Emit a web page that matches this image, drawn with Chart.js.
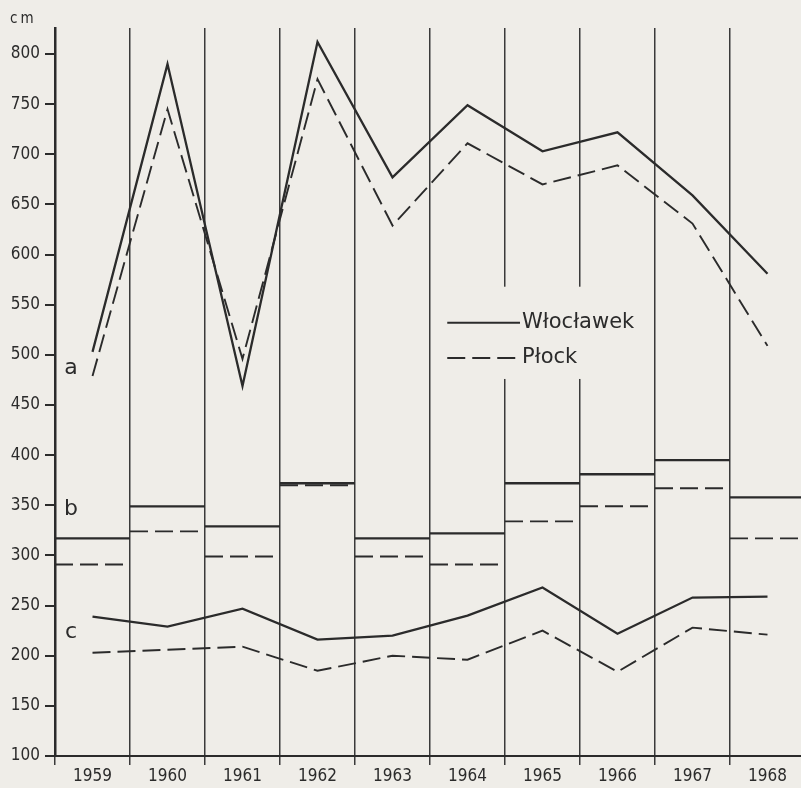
<!DOCTYPE html>
<html>
<head>
<meta charset="utf-8">
<script src="https://cdn.jsdelivr.net/npm/chart.js@4.4.1/dist/chart.umd.min.js"></script>
<style>
  html, body { margin: 0; padding: 0; background: #efede8; overflow: hidden; }
  #wrap { width: 808px; height: 788px; }
</style>
</head>
<body>
<div id="wrap"><canvas id="myChart" width="808" height="788"></canvas></div>
<script>
const years = ["1959", "1960", "1961", "1962", "1963", "1964", "1965", "1966", "1967", "1968"];

// a - górny wykres
const aWloclawek = [503, 790, 469, 812, 677, 749, 703, 722, 659, 581];
const aPlock = [479, 745, 496, 775, 629, 711, 670, 689, 631, 509];
// b - poziome odcinki dla kazdego roku
const bWloclawek = [317, 349, 329, 372, 317, 322, 372, 381, 395, 358];
const bPlock = [291, 324, 299, 370, 299, 291, 334, 349, 367, 317];
// c - dolny wykres
const cWloclawek = [239, 229, 247, 216, 220, 240, 268, 222, 258, 259];
const cPlock = [203, 206, 209, 185, 200, 196, 225, 184, 228, 221];

const yTicks = [100, 150, 200, 250, 300, 350, 400, 450, 500, 550, 600, 650, 700, 750, 800];
const seriesLetters = [
  { text: "a", value: 487 },
  { text: "b", value: 346 },
  { text: "c", value: 223 },
];

const paper = "#efede8";
const ink = "#2b2b2b";
const dash = [18, 7];
const tickFont = "'DejaVu Sans Condensed', 'DejaVu Sans', sans-serif";

// kazdy rok -> osobny odcinek od granicy do granicy
const odcinki = (vals) => {
  let pts = [];
  vals.map((v, i) => {
    pts.push({ x: i - 0.5, y: v });
    pts.push({ x: i + 0.5, y: v });
    pts.push({ x: i + 0.5, y: null });
  });
  return pts;
};

const tlo = {
  id: "tlo",
  beforeDraw(chart) {
    const c = chart.ctx;
    c.save();
    c.fillStyle = paper;
    c.fillRect(0, 0, chart.width, chart.height);
    c.restore();
  },
};

const opisy = {
  id: "opisy",
  beforeDatasetsDraw(chart) {
    // miejsce na legende - linie siatki przerwane
    const c = chart.ctx;
    const y = chart.scales.y;
    const x2 = chart.scales.x2;
    c.save();
    c.fillStyle = paper;
    const l = x2.getPixelForValue(4.62);
    const r = x2.getPixelForValue(7.3);
    const t = y.getPixelForValue(568);
    const b = y.getPixelForValue(476);
    c.fillRect(l, t, r - l, b - t);
    c.restore();
  },
  afterDatasetsDraw(chart) {
    const c = chart.ctx;
    const y = chart.scales.y;
    const x2 = chart.scales.x2;
    const area = chart.chartArea;
    c.save();
    c.fillStyle = ink;
    c.textBaseline = "middle";

    // legenda
    const legenda = [
      { ds: chart.data.datasets[0], v: 532 },
      { ds: chart.data.datasets[1], v: 497 },
    ];
    const x0 = x2.getPixelForValue(4.73);
    const x1 = x2.getPixelForValue(5.7);
    legenda.map((it) => {
      const yy = y.getPixelForValue(it.v);
      c.strokeStyle = it.ds.borderColor;
      c.lineWidth = 2;
      c.setLineDash(it.ds.borderDash || []);
      c.beginPath();
      c.moveTo(x0, yy);
      c.lineTo(x1, yy);
      c.stroke();
      c.setLineDash([]);
      c.font = "21px 'DejaVu Sans', sans-serif";
      c.textAlign = "left";
      c.fillText(it.ds.label, x1 + 2, yy);
    });

    // litery a, b, c
    c.font = "22px 'DejaVu Sans', sans-serif";
    c.textAlign = "center";
    seriesLetters.map((s) => {
      c.fillText(s.text, area.left + 16, y.getPixelForValue(s.value));
    });

    // jednostka
    c.font = "15px " + tickFont;
    c.textAlign = "left";
    c.letterSpacing = "3px";
    c.fillText("cm", 10, 19);
    c.restore();
  },
};

const ctx = document.getElementById("myChart");

new Chart(ctx, {
  type: "line",
  data: {
    labels: years,
    datasets: [
      { label: "Włocławek", data: aWloclawek, borderColor: ink, borderWidth: 2.3 },
      { label: "Płock", data: aPlock, borderColor: ink, borderWidth: 1.9, borderDash: dash },
      { label: "Włocławek b", data: odcinki(bWloclawek), xAxisID: "x2", borderColor: ink, borderWidth: 2.3 },
      { label: "Płock b", data: odcinki(bPlock), xAxisID: "x2", borderColor: ink, borderWidth: 1.9, borderDash: dash },
      { label: "Włocławek c", data: cWloclawek, borderColor: ink, borderWidth: 2.3 },
      { label: "Płock c", data: cPlock, borderColor: ink, borderWidth: 1.9, borderDash: dash },
    ],
  },
  options: {
    responsive: false,
    animation: false,
    spanGaps: false,
    elements: {
      point: { radius: 0, hoverRadius: 0 },
      line: { tension: 0, fill: false, borderCapStyle: "butt" },
    },
    layout: { padding: { top: 28, right: 3, left: 0, bottom: 0 } },
    plugins: {
      legend: { display: false },
      tooltip: { enabled: false },
      title: { display: false },
    },
    scales: {
      x: {
        type: "category",
        offset: true,
        grid: { offset: true, color: "#3a3a3a", lineWidth: 1.5, tickLength: 9, drawTicks: true },
        border: { display: true, color: ink, width: 2 },
        ticks: {
          color: ink,
          font: { family: tickFont, size: 17, lineHeight: 1 },
          padding: 3,
          maxRotation: 0,
          autoSkip: false,
        },
      },
      x2: { type: "linear", min: -0.5, max: 9.5, display: false },
      y: {
        type: "linear",
        min: 100,
        max: 826,
        afterBuildTicks: (s) => {
          s.ticks = yTicks.map((v) => ({ value: v }));
        },
        afterFit: (s) => {
          s.width = 55;
        },
        grid: { drawOnChartArea: false, tickLength: 10, color: ink, lineWidth: 2 },
        border: { display: true, color: ink, width: 2.5 },
        ticks: {
          color: ink,
          font: { family: tickFont, size: 17, lineHeight: 1 },
          padding: 5,
        },
      },
    },
  },
  plugins: [tlo, opisy],
});
</script>
</body>
</html>
